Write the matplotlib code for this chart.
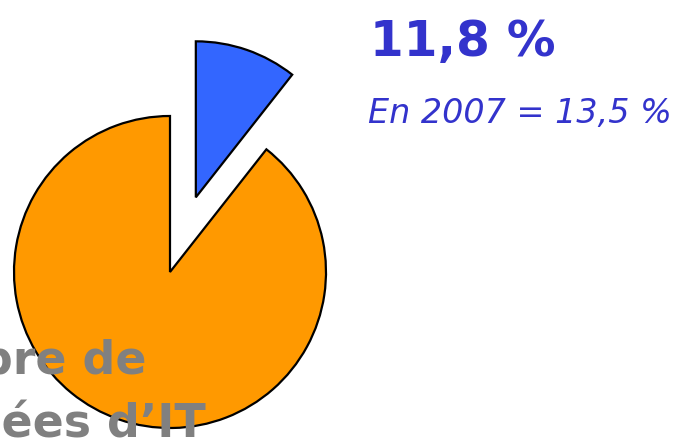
import matplotlib
matplotlib.use('Agg')
from matplotlib import pyplot as plt

# parts of the pie (drawn share of the small slice as seen in the picture)
labels = ['IT', 'Autres']
shares = [10.6, 89.4]
colors = ['#3366ff', '#ff9900']
main_label = '11,8 %'
sub_label = 'En 2007 = 13,5 %'
title_lines = ['Nombre de', 'journées d\u2019IT']

fig = plt.figure(figsize=(6.75, 4.42), dpi=100)
ax = fig.add_axes([0, 0, 1, 1])

# pie in pixel coordinates, y going up
ax.pie(shares, colors=colors, startangle=90, counterclock=False,
       center=(170, 170), radius=156, explode=[79, 0],
       wedgeprops=dict(edgecolor='black', linewidth=1.6))

ax.set_xlim(0, 675)
ax.set_ylim(0, 442)
ax.set_aspect('auto')
ax.axis('off')

# texts at the right
ax.text(370, 442 - 56, main_label, fontsize=35, fontweight='bold',
        color='#3333cc', ha='left', va='baseline')
ax.text(368, 442 - 123, sub_label, fontsize=24, fontstyle='italic',
        color='#3333cc', ha='left', va='baseline')

# gray title, cut at the left edge like in the original slide
ax.text(146, 442 - 373, title_lines[0], fontsize=33, fontweight='bold',
        color='#808080', ha='right', va='baseline', zorder=5)
ax.text(206, 442 - 437, title_lines[1], fontsize=33, fontweight='bold',
        color='#808080', ha='right', va='baseline', zorder=5)

fig.savefig('out.png', dpi=100)
